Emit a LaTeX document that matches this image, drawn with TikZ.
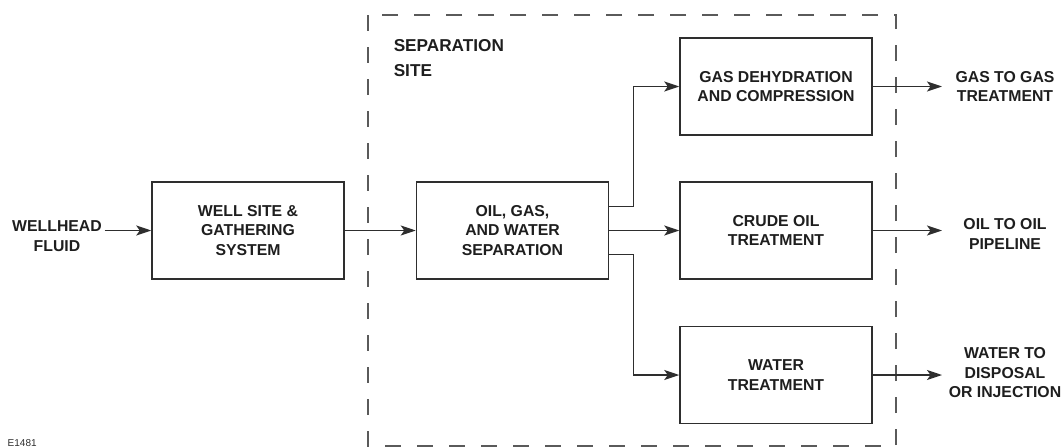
\documentclass[tikz,border=0pt]{standalone}
\usepackage{fontspec}
\setmainfont{Liberation Sans}
\usetikzlibrary{arrows.meta}
\definecolor{inkgray}{HTML}{2E2E2E}
\definecolor{textgray}{HTML}{1E1E1E}
\definecolor{dashgray}{HTML}{5A5A5A}
\begin{document}
\begin{tikzpicture}[x=1pt,y=-1pt,line width=1.5pt,draw=inkgray,
  unitbox/.style={draw,rectangle,minimum width=192pt,minimum height=97pt,inner sep=0pt,
    align=center,text=textgray,font=\bfseries\fontsize{15.8}{19.5}\selectfont},
  flowtext/.style={align=center,inner sep=2pt,text=textgray,font=\bfseries\fontsize{15.8}{19.5}\selectfont},
  flow/.style={-{Stealth[length=15pt,width=10pt,inset=3.5pt]},draw=inkgray}]
  \useasboundingbox (0,0) rectangle (1063,447);
  \draw[dashgray,line width=1.2pt,dash pattern=on 16pt off 16pt] (368,15) rectangle (896,446);
  \node[flowtext,align=left,anchor=west,inner sep=0pt,font=\bfseries\fontsize{17.2}{25}\selectfont] (site) at (393,58.5) {SEPARATION\\SITE};
  \node[flowtext] (wf) at (57,236) {WELLHEAD\\FLUID};
  \node[unitbox] (well) at (248,230.5) {WELL SITE \&\\GATHERING\\SYSTEM};
  \node[unitbox] (sep) at (512.5,230.5) {OIL, GAS,\\AND WATER\\SEPARATION};
  \node[unitbox] (gas) at (776,86.5) {GAS DEHYDRATION\\AND COMPRESSION};
  \node[unitbox] (crude) at (776,230.5) {CRUDE OIL\\TREATMENT};
  \node[unitbox] (water) at (776,375) {WATER\\TREATMENT};
  \node[flowtext] (gasout) at (1005,86.5) {GAS TO GAS\\TREATMENT};
  \node[flowtext] (oilout) at (1005,234) {OIL TO OIL\\PIPELINE};
  \node[flowtext] (waterout) at (1005,373) {WATER TO\\DISPOSAL\\OR INJECTION};
  \node[anchor=west,inner sep=0pt,text=inkgray,font=\fontsize{10}{11}\selectfont] (tag) at (7,443) {E1481};
  \coordinate (outx) at (942,0);
  \draw[flow] (wf.east |- well.west) -- (well.west);
  \draw[flow] (well.east) -- (sep.west);
  \draw[flow] ([yshift=24pt]sep.east) -- ++(24,0) |- (gas.west);
  \draw[flow] (sep.east) -- (crude.west);
  \draw[flow] ([yshift=-24pt]sep.east) -- ++(24,0) |- (water.west);
  \draw[flow] (gas.east) -- (gas.east -| outx);
  \draw[flow] (crude.east) -- (crude.east -| outx);
  \draw[flow] (water.east) -- (water.east -| outx);
\end{tikzpicture}
\end{document}
